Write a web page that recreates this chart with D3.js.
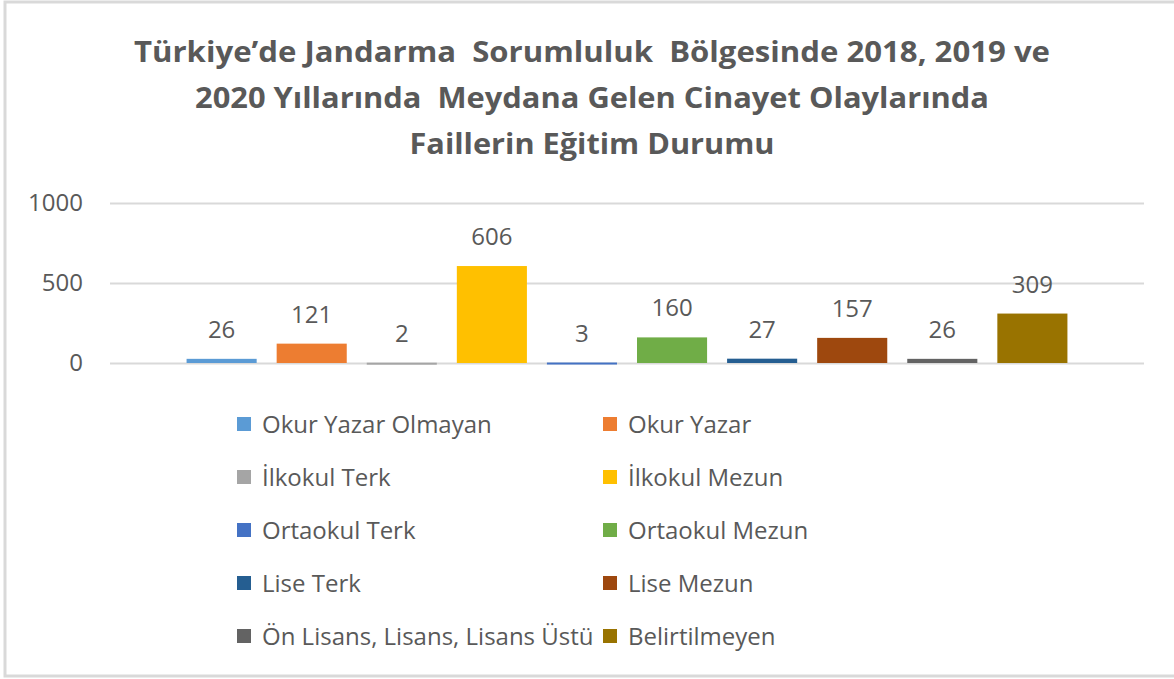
<!DOCTYPE html>
<html>
<head>
<meta charset="utf-8">
<script src="https://cdn.jsdelivr.net/npm/d3@7"></script>
<style>
  body { margin: 0; background: #fff; }
  text { fill: #595959; }
</style>
</head>
<body>
<div class="chart"></div>
<script>
// chart data
var categories = ["Okur Yazar Olmayan", "Okur Yazar", "İlkokul Terk", "İlkokul Mezun", "Ortaokul Terk",
  "Ortaokul Mezun", "Lise Terk", "Lise Mezun", "Ön Lisans, Lisans, Lisans Üstü", "Belirtilmeyen"];
var values = [26, 121, 2, 606, 3, 160, 27, 157, 26, 309];
var colors = ["#5B9BD5", "#ED7D31", "#A5A5A5", "#FFC000", "#4472C4",
  "#70AD47", "#255E91", "#9E480E", "#636363", "#997300"];
var yTicks = [0, 500, 1000];
var titleLines = ["Türkiye’de Jandarma  Sorumluluk  Bölgesinde 2018, 2019 ve",
  "2020 Yıllarında  Meydana Gelen Cinayet Olaylarında",
  "Faillerin Eğitim Durumu"];
var titleWidths = [916, 794, 365];

var svgWidth = 1174;
var svgHeight = 679;
var labelFont = "'Open Sans', 'Noto Sans', sans-serif";

var svg = d3.select(".chart")
  .append("svg")
  .attr("width", svgWidth)
  .attr("height", svgHeight);

// chart border
svg.append("rect")
  .attr("x", 5).attr("y", 2)
  .attr("width", svgWidth + 10).attr("height", 674)
  .attr("fill", "none")
  .attr("stroke", "#d9d9d9")
  .attr("stroke-width", 3);

// title
svg.append("g").selectAll("text")
  .data(titleLines)
  .enter().append("text")
  .attr("x", 592)
  .attr("y", (d, i) => 62 + i * 46)
  .attr("text-anchor", "middle")
  .attr("textLength", (d, i) => titleWidths[i])
  .attr("lengthAdjust", "spacingAndGlyphs")
  .style("white-space", "pre")
  .style("font-family", labelFont)
  .style("font-weight", "bold")
  .style("font-size", "28px")
  .text(d => d);

// scales
var x = d3.scaleBand()
  .domain(categories)
  .range([110, 1144])
  .paddingInner(0.222)
  .paddingOuter(0.85);

var y = d3.scaleLinear()
  .domain([0, 1000])
  .range([363, 203]);

// gridlines + y axis labels
var yAxis = d3.axisLeft(y)
  .tickValues(yTicks)
  .tickFormat(d3.format("d"))
  .tickSize(-(1144 - 110))
  .tickPadding(27);

var axisG = svg.append("g")
  .attr("transform", "translate(110,0)")
  .call(yAxis);
axisG.select(".domain").remove();
axisG.selectAll(".tick line")
  .attr("stroke", "#d9d9d9")
  .attr("stroke-width", 2);
axisG.selectAll(".tick text")
  .style("font-family", labelFont)
  .style("font-size", "24px")
  .attr("fill", "#595959");

// bars
svg.append("g").selectAll("rect")
  .data(values)
  .enter().append("rect")
  .attr("x", (d, i) => x(categories[i]))
  .attr("y", d => y(d))
  .attr("width", x.bandwidth())
  .attr("height", d => Math.max(y(0) - y(d), 2))
  .attr("fill", (d, i) => colors[i]);

// value labels
svg.append("g").selectAll("text")
  .data(values)
  .enter().append("text")
  .attr("x", (d, i) => x(categories[i]) + x.bandwidth() / 2)
  .attr("y", d => y(d) - 21)
  .attr("text-anchor", "middle")
  .style("font-family", labelFont)
  .style("font-size", "24px")
  .text(d => d);

// legend
var legend = svg.append("g").selectAll("g")
  .data(categories)
  .enter().append("g")
  .attr("transform", (d, i) => `translate(${i % 2 === 0 ? 237 : 603}, ${424 + Math.floor(i / 2) * 53})`);

legend.append("rect")
  .attr("x", 0).attr("y", -7)
  .attr("width", 14).attr("height", 14)
  .attr("fill", (d, i) => colors[i]);

legend.append("text")
  .attr("x", 25)
  .attr("y", 9)
  .style("font-family", labelFont)
  .style("font-size", "24px")
  .text(d => d);
</script>
</body>
</html>
